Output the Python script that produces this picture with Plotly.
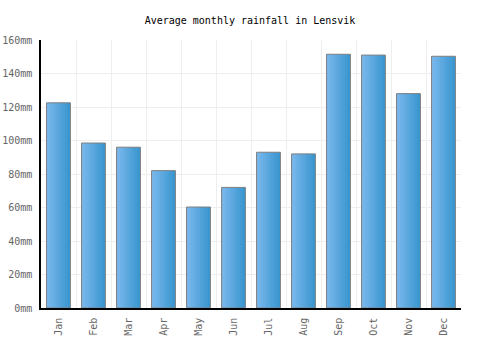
import plotly.graph_objects as go

months = ["Jan","Feb","Mar","Apr","May","Jun","Jul","Aug","Sep","Oct","Nov","Dec"]
rainfall = [122.5, 98.5, 96, 82, 60.3, 72, 93, 92, 151.5, 151, 128, 150.3]
y_ticks = [0, 20, 40, 60, 80, 100, 120, 140, 160]
y_labels = [f"{v}mm" for v in y_ticks]

fig = go.Figure()

bar_w = 0.68
n = 14
c0 = (122, 184, 236)
c1 = (58, 150, 208)
sw = bar_w / n
for i in range(n):
    t = i / (n - 1)
    col = tuple(round(a + (b - a) * t) for a, b in zip(c0, c1))
    fig.add_trace(go.Bar(
        x=months, y=rainfall, width=sw * 1.05, offset=-bar_w / 2 + i * sw,
        marker=dict(color=f"rgb{col}", line=dict(width=0)),
        hoverinfo="skip", showlegend=False))

fig.add_trace(go.Bar(
    x=months, y=rainfall, width=bar_w,
    marker=dict(color="rgba(0,0,0,0)", line=dict(color="#808080", width=1)),
    showlegend=False))

fig.update_layout(
    barmode="overlay",
    width=500, height=350,
    margin=dict(l=41, r=39, t=40, b=42),
    paper_bgcolor="white", plot_bgcolor="white",
    title=dict(text="Average monthly rainfall in Lensvik", x=0.5, xanchor="center",
               y=1 - 20 / 350, yanchor="middle",
               font=dict(family="DejaVu Sans Mono", size=10, color="#000")),
    font=dict(family="DejaVu Sans Mono", size=10, color="#666"),
)
fig.update_xaxes(
    type="category", tickangle=-90, showline=True, linecolor="#000", linewidth=1.5,
    showgrid=True, gridcolor="#eeeeee", ticks="", tickson="boundaries",
    automargin=False, ticklabelstandoff=4,
    tickfont=dict(family="DejaVu Sans Mono", size=10, color="#666"),
)
fig.update_yaxes(
    range=[0, 160], tickvals=y_ticks, ticktext=y_labels, showline=True,
    linecolor="#000", linewidth=1.5, showgrid=True, gridcolor="#eeeeee",
    zeroline=False, ticks="", ticklen=0, automargin=False, ticklabelstandoff=5,
    tickfont=dict(family="DejaVu Sans Mono", size=10, color="#666"),
)

fig.write_html("out.html")
